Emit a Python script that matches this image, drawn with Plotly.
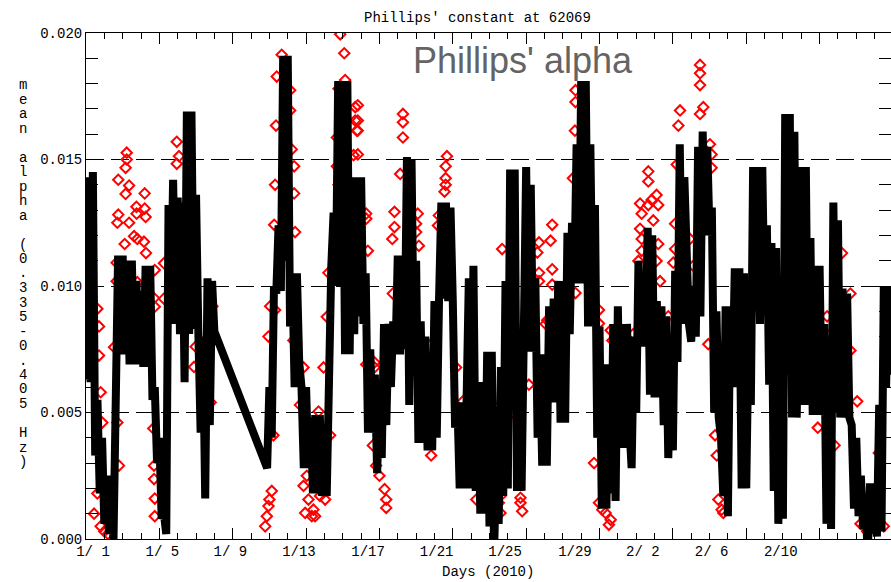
import numpy as np
import plotly.graph_objects as go

MONO = "Liberation Mono"

# ---- data -------------------------------------------------------------
STEP = 0.125          # sample spacing, days (3 h)
SEG1_START = 0.0      # 1/1 00:00
SEG2_START = 9.875    # 1/10 21:00 (after the data gap)

# mean alpha, units of 1e-3, one row per day (8 samples)
alpha_seg1 = [
    6.3, 14.3, 6.2, 14.5, 3.3, 5.5, 1.8, 4.0,      # 1/1
    0.6, 2.5, 0.2, 1.0, 0.0, 6.9, 11.2, 7.3,       # 1/2
    11.2, 7.3, 11.0, 6.9, 11.0, 6.9, 10.2, 6.9,    # 1/3
    9.8, 6.8, 10.8, 6.8, 10.8, 5.5, 6.0, 3.0,      # 1/4
    4.0, 0.8, 1.0, 0.2, 13.2, 9.2, 14.2, 8.5,      # 1/5
    13.5, 8.1, 13.3, 6.2, 16.9, 8.1, 16.9, 8.3,    # 1/6
    13.6, 8.2, 4.2, 8.0, 1.6, 10.3, 4.5, 10.2,     # 1/7
    8.2,
]

alpha_seg2 = [
    2.8,
    6.0, 4.0, 10.0, 9.7, 12.4, 9.8, 19.1, 11.0,    # 1/11
    19.1, 8.4, 10.5, 6.0, 10.5, 7.0, 6.0, 2.8,     # 1/12
    6.0, 2.8, 4.8, 1.8, 4.9, 1.8, 4.9, 1.7,        # 1/13
    4.2, 1.7, 8.4, 10.8, 12.9, 10.0, 18.1, 10.0,   # 1/14
    18.1, 7.3, 18.1, 7.3, 14.3, 8.1, 14.3, 8.8,    # 1/15
    14.3, 8.5, 10.5, 4.2, 7.5, 4.2, 6.5, 2.6,      # 1/16
    5.5, 3.2, 8.5, 4.5, 8.5, 6.0, 8.6, 7.3,        # 1/17
    11.2, 7.3, 11.2, 7.5, 15.1, 5.3, 15.0, 7.3,    # 1/18
    11.0, 3.8, 8.6, 3.8, 8.0, 3.5, 7.3, 3.5,       # 1/19
    9.4, 4.0, 9.5, 13.3, 9.5, 13.3, 9.4, 13.1,     # 1/20
    9.4, 4.4, 5.4, 2.0, 5.4, 2.0, 5.4, 10.3,       # 1/21
    2.0, 10.8, 1.9, 6.2, 1.0, 6.2, 1.0, 7.4,       # 1/22
    0.5, 7.4, -0.5, 3.0, 0.6, 6.8, 1.7, 10.2,      # 1/23
    2.0, 14.6, 7.0, 14.6, 1.9, 6.8, 1.9, 7.4,      # 1/24
    14.7, 7.4, 14.0, 7.4, 10.3, 4.0, 7.3, 2.9,     # 1/25
    7.3, 2.9, 9.2, 5.4, 9.5, 5.4, 10.2, 4.6,       # 1/26
    10.2, 4.6, 12.1, 8.1, 12.5, 10.1, 15.6, 10.1,  # 1/27
    18.1, 10.1, 18.1, 8.4, 15.6, 8.5, 13.2, 4.0,   # 1/28
    8.4, 1.2, 6.9, 1.2, 6.9, 1.8, 8.5, 1.5,        # 1/29
    9.2, 3.6, 8.5, 3.6, 8.5, 4.5, 2.8, 8.0,        # 1/30
    5.0, 11.0, 7.6, 10.5, 7.6, 12.3, 5.7, 12.0,    # 1/31
    5.6, 9.4, 5.6, 9.2, 4.5, 8.8, 3.2, 6.8,        # 2/1
    3.5, 10.6, 7.0, 15.6, 8.5, 14.3, 9.8, 8.5,     # 2/2
    7.8, 10.0, 8.0, 15.5, 8.8, 16.1, 12.0, 15.5,   # 2/3
    12.0, 13.1, 5.0, 9.0, 4.8, 4.0, 1.7, 9.2,      # 2/4
    0.9, 9.2, 6.0, 10.7, 6.0, 10.7, 2.0, 10.5,     # 2/5
    2.0, 8.0, 5.3, 14.7, 9.0, 14.7, 8.5, 14.7,     # 2/6
    9.0, 12.4, 6.1, 11.7, 1.9, 11.5, 0.6, 6.8,     # 2/7
    0.8, 16.8, 9.0, 16.8, 4.8, 16.1, 4.8, 9.0,     # 2/8
    14.7, 5.3, 14.7, 5.3, 11.9, 4.9, 10.8, 4.9,    # 2/9
    10.8, 4.9, 8.5, 0.6, 6.8, 0.4, 13.3, 5.0,      # 2/10
    12.6, 4.8, 9.9, 4.8, 9.7, 4.8, 4.5, 1.2,       # 2/11
    4.0, 0.9, 2.5, 0.4, 1.4, -0.6, 2.2, 0.2,       # 2/12
    2.2, 0.1, 5.3, 0.3, 10.0, 6.0, 10.0, 6.5,      # 2/13
    9.0,
]

# individual estimates (red diamonds): day since 1/1, alpha in 1e-3
red_day = [
    2.22, 2.22, 2.16, 1.76, 2.35, 2.16, 3.20, 2.75, 3.20, 1.76, 1.71, 2.35,
    2.76, 3.25, 2.11, 2.62, 2.80, 3.16, 3.27, 3.75, 1.67, 1.67, 2.80, 3.71,
    3.75, 1.53, 3.67, 3.71, 3.71, 3.75, 3.75, 4.95, 5.07, 4.95, 1.00, 0.80,
    1.20, 0.62, 0.71, 0.71, 0.80, 0.89, 0.62, 0.44, 1.80, 1.71, 4.25, 4.25,
    5.98, 6.80, 6.89, 5.89,
    10.67, 10.40, 10.36, 10.31, 11.35, 11.35, 11.40, 10.26, 10.31, 10.22,
    10.13, 10.00, 9.95, 9.86, 9.77, 11.86, 12.13, 12.40, 12.49, 12.76, 13.04,
    12.04, 12.31, 11.95, 12.68, 13.86, 14.08, 14.13, 13.77, 14.68, 14.68,
    14.77, 13.68, 14.59, 13.68, 13.77, 13.22, 13.13, 11.13, 11.13, 11.22,
    10.04, 9.95, 11.31, 11.86, 11.67, 12.95, 13.31,
    14.82, 14.82, 14.82, 14.82, 17.28, 17.28, 17.28, 17.13, 19.68, 19.61,
    19.61, 19.61, 19.55, 19.24, 19.19, 16.82, 16.82, 16.70, 18.09, 18.00,
    18.00, 18.15, 15.28, 15.28, 15.37, 15.73, 15.73, 15.64, 15.82, 16.00,
    16.28, 16.37, 16.37, 18.82, 20.55, 16.73, 15.28, 20.18, 19.00, 21.10,
    21.28, 18.64,
    26.69, 26.69, 26.66, 26.55, 25.42, 24.70, 25.33, 24.61, 25.42, 24.70,
    25.42, 24.70, 25.15, 26.69, 27.97, 27.97, 28.61, 28.70, 22.60, 22.51,
    22.60, 23.69, 23.69, 23.78, 22.88, 28.33, 28.61, 28.51, 27.97, 28.15,
    22.69, 22.88, 22.97, 24.15, 25.06, 27.70,
    33.48, 33.48, 33.48, 33.66, 33.48, 32.39, 32.30, 32.21, 32.12, 32.12,
    32.02, 30.66, 30.66, 30.21, 30.30, 30.84, 31.11, 31.20, 30.66, 30.93,
    30.21, 30.30, 31.20, 30.30, 30.12, 31.11, 31.30, 34.02, 34.11, 34.11,
    34.48, 34.66, 34.75, 34.39, 34.30, 29.84, 31.75, 31.57, 32.93, 33.11,
    33.93, 35.75, 36.03, 35.20,
    42.05, 40.41, 40.59, 41.22, 41.68, 41.68, 39.90, 40.82, 42.23, 43.50,
    43.23, 39.30, 42.60, 42.40,
]
red_milli = [
    15.27, 15.00, 14.67, 14.20, 13.97, 13.64, 13.66, 13.13, 13.06, 12.82,
    12.50, 12.50, 12.86, 12.73, 11.66, 11.97, 11.86, 11.75, 11.30, 10.63,
    10.92, 10.19, 10.15, 9.52, 9.18, 7.58, 4.37, 2.90, 2.37, 1.60, 0.90,
    15.70, 15.13, 14.83, 0.30, 0.50, 0.20, 9.10, 8.40, 7.25, 5.80, 4.60,
    1.80, 1.00, 2.90, 4.60, 10.90, 9.50, 7.60, 5.40, 9.20, 6.80,
    19.14, 18.28, 16.34, 14.00, 14.73, 13.66, 12.13, 12.42, 9.05, 4.10,
    1.90, 1.56, 1.30, 0.90, 0.50, 2.10, 1.56, 1.16, 0.90, 1.70, 1.56,
    2.50, 0.90, 1.03, 5.04, 19.95, 19.20, 18.14, 17.80, 17.07, 16.54,
    16.14, 15.87, 15.17, 14.73, 14.00, 10.52, 8.78, 17.74, 16.94, 15.40,
    9.20, 8.00, 7.85, 6.78, 5.30, 6.78, 4.10,
    17.14, 16.54, 16.14, 15.20, 16.80, 16.47, 15.87, 14.43, 15.13, 14.73,
    14.26, 14.00, 13.73, 12.79, 12.39, 12.93, 12.33, 11.86, 12.86, 12.46,
    12.13, 11.59, 12.86, 12.66, 11.39, 6.98, 6.78, 3.70, 2.90, 2.50,
    1.97, 1.56, 1.23, 3.30, 5.44, 9.70, 6.90, 6.78, 7.85, 2.50,
    1.56, 6.60,
    17.74, 17.27, 16.14, 14.26, 12.42, 11.72, 11.79, 11.32, 10.66, 10.52,
    10.05, 10.19, 8.65, 9.72, 9.05, 8.52, 8.25, 7.85, 1.70, 1.43,
    1.03, 1.63, 1.43, 1.10, 4.30, 1.03, 0.76, 0.56, 1.43, 1.16,
    11.46, 5.60, 4.80, 6.10, 8.50, 3.00,
    18.74, 18.41, 17.94, 17.07, 16.80, 16.94, 16.34, 14.80, 12.46, 11.46,
    10.92, 14.53, 14.13, 13.26, 12.86, 13.40, 13.60, 13.20, 13.20, 12.59,
    12.26, 11.86, 11.66, 11.39, 10.99, 10.99, 10.19, 15.60, 15.20, 14.67,
    1.56, 1.16, 1.03, 3.30, 4.10, 8.10, 8.80, 8.10, 11.86, 10.80,
    7.70, 10.25, 9.85, 6.80,
    5.44, 8.80, 8.10, 11.30, 9.70, 7.45, 4.40, 3.70, 0.60, 0.50,
    3.40, 11.70, 0.30, 0.50,
]

# axis ticks and date labels
major_days = list(range(0, 45, 4))
date_labels = ["1/ 1", "1/ 5", "1/ 9", "1/13", "1/17", "1/21",
               "1/25", "1/29", "2/ 2", "2/ 6", "2/10"]
label_days = [0.38, 4.16, 7.87, 11.61, 15.38, 19.12,
              22.85, 26.66, 30.36, 34.11, 37.88]
y_major = [0.000, 0.005, 0.010, 0.015, 0.020]

# ---- geometry ------------------------------------------------------------
W, H = 891, 582
L, T, B = 86, 33, 43
PLOT_W = W - L
PLOT_H = H - T - B
PX_PER_DAY = 18.34
X_RANGE = [0, PLOT_W / PX_PER_DAY]


def px_to_paper_x(px):
    return (px - L) / PLOT_W


def px_to_paper_y(py):
    return (H - B - py) / PLOT_H


t1 = SEG1_START + STEP * np.arange(len(alpha_seg1))
t2 = SEG2_START + STEP * np.arange(len(alpha_seg2))
t = np.concatenate([t1, t2])
alpha = np.concatenate([alpha_seg1, alpha_seg2]) * 1e-3

fig = go.Figure()

fig.add_trace(go.Scatter(
    x=red_day, y=np.array(red_milli) * 1e-3, mode="markers",
    marker=dict(symbol="diamond-open", size=8, color="#ff0000",
                line=dict(width=2, color="#ff0000")),
    hoverinfo="skip", showlegend=False))

fig.add_trace(go.Scatter(
    x=t, y=alpha, mode="lines",
    line=dict(color="black", width=8),
    hoverinfo="skip", showlegend=False))

# carrier trace for the date-label axis
fig.add_trace(go.Scatter(
    x=label_days, y=[None] * len(label_days), xaxis="x2", mode="markers",
    hoverinfo="skip", showlegend=False))

tick_font = dict(family=MONO, size=14, color="black")

fig.update_layout(
    width=W, height=H,
    margin=dict(l=L, r=0, t=T, b=B, pad=0),
    paper_bgcolor="white", plot_bgcolor="white",
    showlegend=False,
    xaxis=dict(
        range=X_RANGE, tickvals=major_days, ticks="inside", ticklen=11,
        tickwidth=1, tickcolor="black", showticklabels=False,
        showline=True, linecolor="black", linewidth=1, mirror="ticks",
        showgrid=False, zeroline=False,
        minor=dict(ticks="inside", ticklen=6, dtick=1, tick0=0,
                   tickcolor="black", tickwidth=1, showgrid=False),
    ),
    xaxis2=dict(
        overlaying="x", side="bottom", range=X_RANGE,
        tickvals=label_days, ticktext=date_labels, ticks="",
        showline=False, showgrid=False, zeroline=False, tickfont=tick_font,
        ticklabelstandoff=2,
    ),
    yaxis=dict(
        range=[0, 0.020], tickvals=y_major, tickformat=".3f",
        ticks="inside", ticklen=12, tickwidth=1, tickcolor="black",
        showline=True, linecolor="black", linewidth=1, mirror="ticks",
        showgrid=True, gridcolor="black", gridwidth=1, griddash="18px,7px",
        zeroline=False, tickfont=tick_font,
        minor=dict(ticks="inside", ticklen=12, dtick=0.001, tick0=0,
                   tickcolor="black", tickwidth=1, showgrid=False),
    ),
)

annotations = [
    dict(text="Phillips' constant at 62069", x=px_to_paper_x(477.5),
         y=px_to_paper_y(18), xref="paper", yref="paper", showarrow=False,
         xanchor="center", yanchor="middle", font=tick_font),
    dict(text="Days (2010)", x=px_to_paper_x(487.5), y=px_to_paper_y(572),
         xref="paper", yref="paper", showarrow=False,
         xanchor="center", yanchor="middle", font=tick_font),
    dict(text="Phillips' alpha", x=px_to_paper_x(411), y=px_to_paper_y(60.5),
         xref="paper", yref="paper", showarrow=False,
         xanchor="left", yanchor="middle",
         font=dict(family="Liberation Sans", size=36, color="#646464")),
]

# vertical y-axis label, one character per line (14.5 px pitch)
ylabel = "mean alpha (0.335-0.405 Hz)"
PITCH = 14.5
stacked = "<br>".join(
    '<span style="font-size:14px">%s</span>' % (ch if ch != " " else "\u00a0")
    for ch in ylabel)
first_y, last_y = 85, 85 + PITCH * (len(ylabel) - 1)
annotations.append(dict(
    text=stacked, x=px_to_paper_x(23), y=px_to_paper_y((first_y + last_y) / 2),
    xref="paper", yref="paper", showarrow=False, align="center",
    xanchor="center", yanchor="middle",
    font=dict(family=MONO, size=PITCH / 1.3, color="black")))

fig.update_layout(annotations=annotations)

fig.write_html("out.html")
